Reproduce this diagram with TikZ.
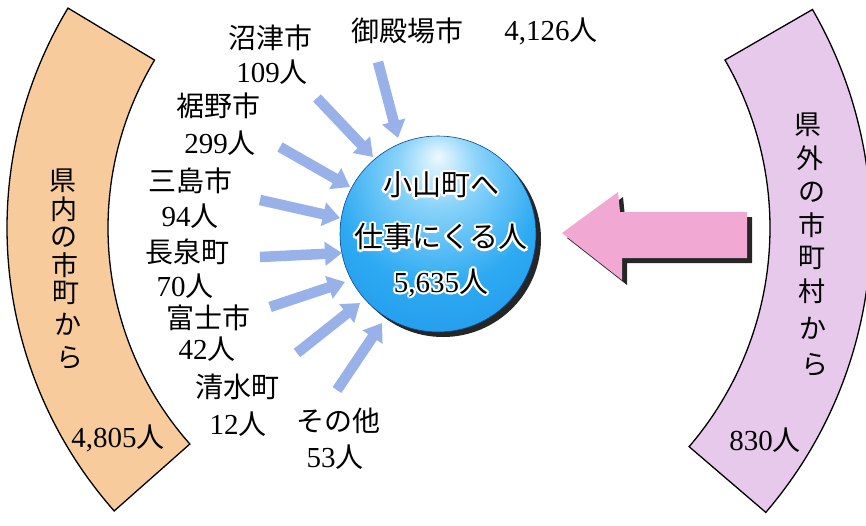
\documentclass[tikz,border=0pt]{standalone}
\usepackage{fontspec}
\setmainfont{Liberation Serif}
\newfontfamily\jp{Noto Sans CJK JP}
\usetikzlibrary{arrows.meta,calc}
\definecolor{bandL}{RGB}{247,203,156}
\definecolor{bandR}{RGB}{231,201,236}
\definecolor{pinkA}{RGB}{241,168,210}
\definecolor{arrB}{RGB}{152,177,233}
\definecolor{shad}{RGB}{38,38,38}
\definecolor{orbA}{RGB}{236,249,255}
\definecolor{orbB}{RGB}{140,212,250}
\definecolor{orbC}{RGB}{45,170,242}
\definecolor{orbD}{RGB}{25,138,230}
\definecolor{orbE}{RGB}{18,100,205}
\pgfdeclareradialshading{orb}{\pgfpoint{0bp}{20bp}}{color(0bp)=(orbA); color(10bp)=(orbB); color(26bp)=(orbC); color(52bp)=(orbD); color(72bp)=(orbE)}
\newcommand\J[1]{{\jp\fontsize{28}{28}\selectfont #1}}
\newcommand\JC[1]{{\jp\fontsize{29}{29}\selectfont #1}}
\begin{document}
\begin{tikzpicture}[x=1pt,y=-1pt,
  lbl/.style={font=\fontsize{29}{30}\selectfont, inner sep=0pt, anchor=center},
  ctext/.style={font=\fontsize{29}{30}\selectfont, inner sep=0pt, anchor=center},
  vtxt/.style={font=\jp\fontsize{27}{27}\selectfont, inner sep=0pt, anchor=center},
  fat/.style={draw=arrB, line width=10.5pt, -{Triangle[length=17pt,width=23pt]}},
  bandline/.style={draw=black, line width=1.3pt}]
\useasboundingbox (0,0) rectangle (866,525);
\coordinate (C) at (434,228);
% left band
\fill[shad, xshift=6pt, yshift=-5pt] ($(C)+(149:427pt)$) arc[start angle=149, end angle=221.5, radius=427pt] -- ($(C)+(221.5:326pt)$) arc[start angle=221.5, end angle=149, radius=326pt] -- cycle;
\path[fill=bandL, bandline] ($(C)+(149:427pt)$) arc[start angle=149, end angle=221.5, radius=427pt] -- ($(C)+(221.5:326pt)$) arc[start angle=221.5, end angle=149, radius=326pt] -- cycle;
% right band
\fill[shad, xshift=5pt, yshift=-5pt] ($(C)+(-40.6:437pt)$) arc[start angle=-40.6, end angle=30, radius=437pt] -- ($(C)+(30:336pt)$) arc[start angle=30, end angle=-40.6, radius=336pt] -- cycle;
\path[fill=bandR, bandline] ($(C)+(-40.6:437pt)$) arc[start angle=-40.6, end angle=30, radius=437pt] -- ($(C)+(30:336pt)$) arc[start angle=30, end angle=-40.6, radius=336pt] -- cycle;
% band texts
\foreach \c/\x/\y [count=\i] in {県/63/181,内/64/209,の/64/237,市/65/265,町/66/293,か/68/324,ら/70/358}
  \node[vtxt] (L\i) at (\x,\y) {\c};
\node[lbl] (Lsum) at (118,438) {4,805\J{人}};
\foreach \c/\x/\y [count=\i] in {県/808/125,外/810/158,の/812/192,市/812/225,町/812/258,村/812/291,か/813/328,ら/815/365}
  \node[vtxt] (R\i) at (\x,\y) {\c};
\node[lbl] (Rsum) at (765,440) {830\J{人}};
% pink arrow
\fill[shad, xshift=5pt, yshift=-5pt] (562,233) -- (618,192) -- (620,212) -- (747,212) -- (747,258) -- (622,258) -- (622,280) -- cycle;
\fill[pinkA] (562,233) -- (618,192) -- (620,212) -- (747,212) -- (747,258) -- (622,258) -- (622,280) -- cycle;
% central circle
\fill[shad] (443,239) circle[radius=98pt];
\node[circle, shade, shading=orb, minimum size=196pt, inner sep=0pt, draw=orbE!70!black, line width=0.6pt] (orb) at (438,234) {};
\foreach \p/\t in {{441,185}/\JC{小山町へ}, {441,237}/\JC{仕事にくる人}, {441,283}/{5,635\JC{人}}}
  \foreach \a in {0,30,...,330}
    \node[ctext, text=white] at ($(\p)+(\a:2.2pt)$) {\t};
\node[ctext] (o1) at (441,185) {\JC{小山町へ}};
\node[ctext] (o2) at (441,237) {\JC{仕事にくる人}};
\node[ctext] (o3) at (441,283) {5,635\JC{人}};
% labels
\node[lbl] (gotenba) at (407,31) {\J{御殿場市}};
\node[lbl] (gotenbaN) at (551,31) {4,126\J{人}};
\node[lbl] (numazu) at (270,38) {\J{沼津市}};
\node[lbl] (numazuN) at (272,72) {109\J{人}};
\node[lbl] (susono) at (218,106) {\J{裾野市}};
\node[lbl] (susonoN) at (220,143) {299\J{人}};
\node[lbl] (mishima) at (190,181) {\J{三島市}};
\node[lbl] (mishimaN) at (190,216) {94\J{人}};
\node[lbl] (nagaizumi) at (187,252) {\J{長泉町}};
\node[lbl] (nagaizumiN) at (185,286) {70\J{人}};
\node[lbl] (fuji) at (208,318) {\J{富士市}};
\node[lbl] (fujiN) at (207,349) {42\J{人}};
\node[lbl] (shimizu) at (237,387) {\J{清水町}};
\node[lbl] (shimizuN) at (238,424) {12\J{人}};
\node[lbl] (other) at (338,421) {\J{その他}};
\node[lbl] (otherN) at (335,457) {53\J{人}};
% blue arrows
\coordinate (t1) at (378,62);  \coordinate (h1) at (398,138);
\coordinate (t2) at (317,98);  \coordinate (h2) at (373,157);
\coordinate (t3) at (280,147); \coordinate (h3) at (350,187);
\coordinate (t4) at (260,200); \coordinate (h4) at (340,218);
\coordinate (t5) at (260,257); \coordinate (h5) at (342,253);
\coordinate (t6) at (270,307); \coordinate (h6) at (345,282);
\coordinate (t7) at (297,353); \coordinate (h7) at (360,303);
\coordinate (t8) at (337,390); \coordinate (h8) at (382,323);
\foreach \i in {1,...,8} \draw[fat] (t\i) -- (h\i);
\end{tikzpicture}
\end{document}
